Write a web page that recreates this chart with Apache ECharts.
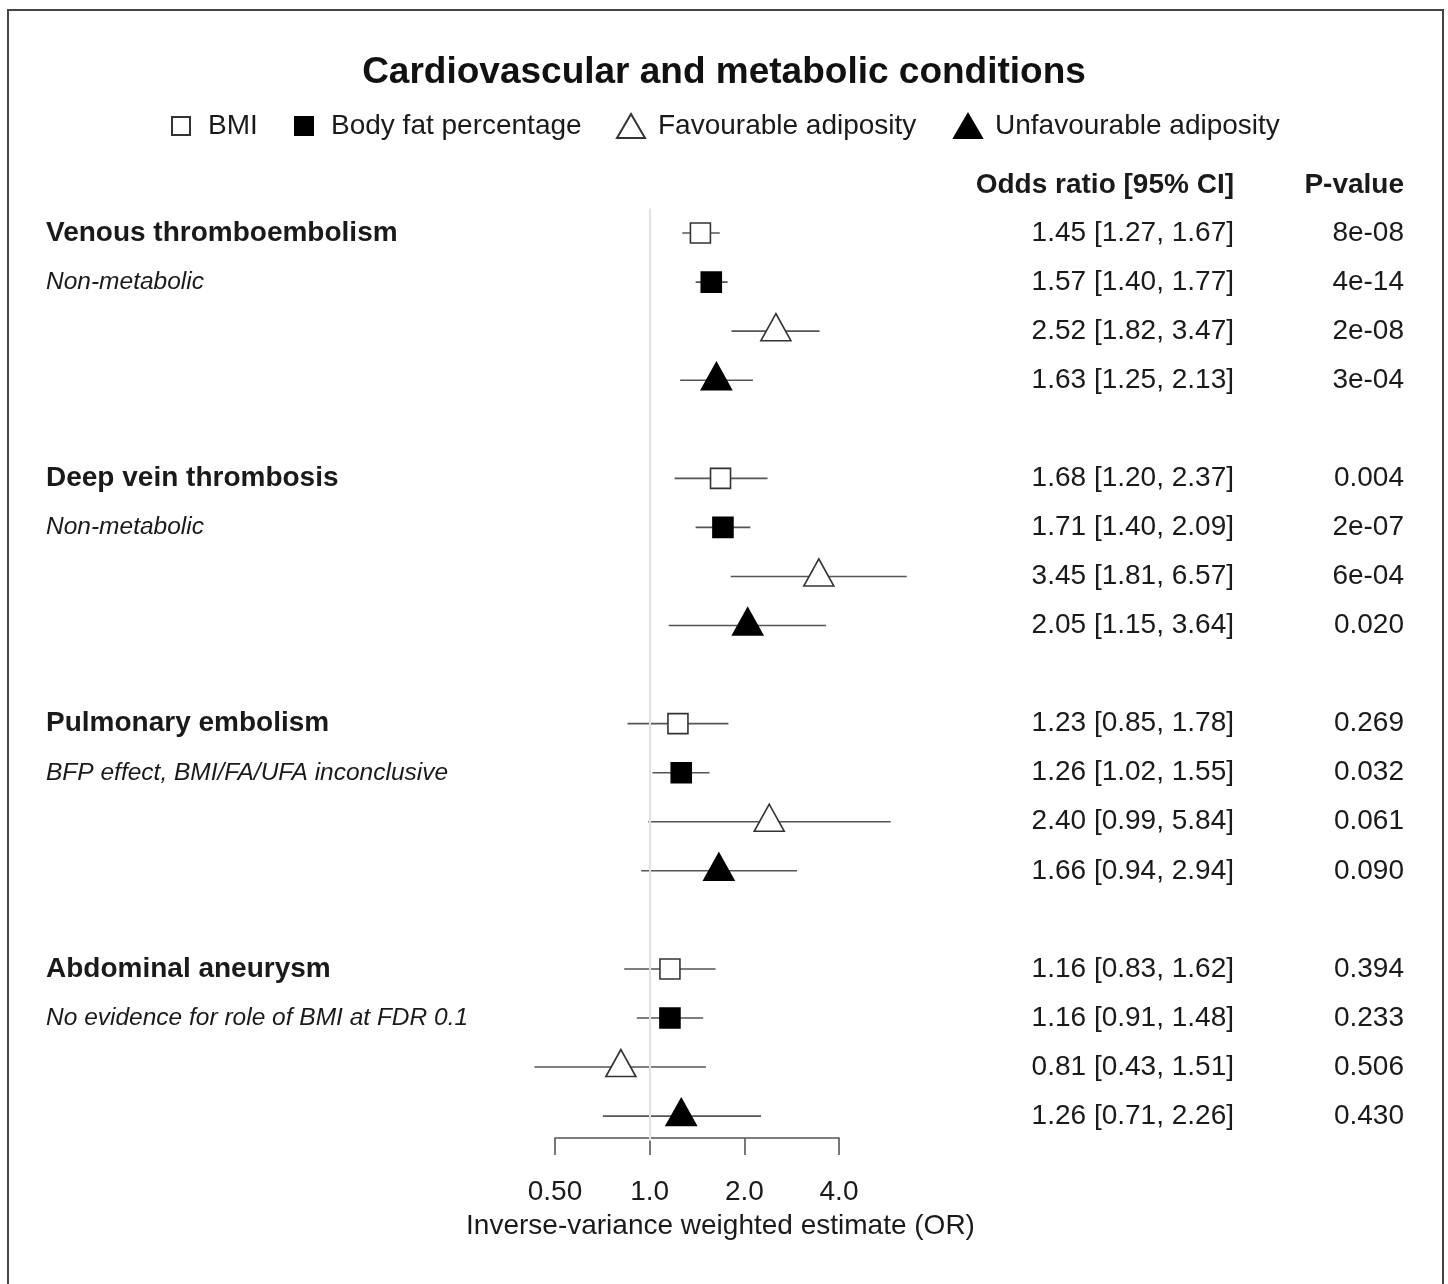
<!DOCTYPE html>
<html>
<head>
<meta charset="utf-8">
<script src="https://cdn.jsdelivr.net/npm/echarts@6/dist/echarts.min.js"></script>
<style>
html,body{margin:0;padding:0;background:#fff;}
#chart{width:1448px;height:1284px;}
</style>
</head>
<body>
<div id="chart"></div>
<script>
// ---- data ----
const outcomes = ['Venous thromboembolism', 'Deep vein thrombosis', 'Pulmonary embolism', 'Abdominal aneurysm'];
const subtitles = ['Non-metabolic', 'Non-metabolic', 'BFP effect, BMI/FA/UFA inconclusive', 'No evidence for role of BMI at FDR 0.1'];
const exposures = ['BMI', 'Body fat percentage', 'Favourable adiposity', 'Unfavourable adiposity'];

const bmiEst = [1.45, 1.68, 1.23, 1.16];
const bmiLo  = [1.27, 1.20, 0.85, 0.83];
const bmiHi  = [1.67, 2.37, 1.78, 1.62];
const bmiP   = ['8e-08', '0.004', '0.269', '0.394'];

const bfpEst = [1.57, 1.71, 1.26, 1.16];
const bfpLo  = [1.40, 1.40, 1.02, 0.91];
const bfpHi  = [1.77, 2.09, 1.55, 1.48];
const bfpP   = ['4e-14', '2e-07', '0.032', '0.233'];

const faEst = [2.52, 3.45, 2.40, 0.81];
const faLo  = [1.82, 1.81, 0.99, 0.43];
const faHi  = [3.47, 6.57, 5.84, 1.51];
const faP   = ['2e-08', '6e-04', '0.061', '0.506'];

const ufaEst = [1.63, 2.05, 1.66, 1.26];
const ufaLo  = [1.25, 1.15, 0.94, 0.71];
const ufaHi  = [2.13, 3.64, 2.94, 2.26];
const ufaP   = ['3e-04', '0.020', '0.090', '0.430'];

const tickValues = [0.5, 1, 2, 4];
const tickLabels = ['0.50', '1.0', '2.0', '4.0'];
const refLineValue = 1;

// ---- build ----
const FONT = '"Liberation Sans", Arial, Helvetica, sans-serif';
const TXT = '#1a1a1a';
const ROWS = 19;
const rowIds = [];
for (let i = 0; i < ROWS; i++) rowIds.push('r' + i);

const sets = [
  {est: bmiEst, lo: bmiLo, hi: bmiHi, p: bmiP},
  {est: bfpEst, lo: bfpLo, hi: bfpHi, p: bfpP},
  {est: faEst, lo: faLo, hi: faHi, p: faP},
  {est: ufaEst, lo: ufaLo, hi: ufaHi, p: ufaP}
];
const orText = new Array(ROWS).fill('');
const pText = new Array(ROWS).fill('');
const leftText = new Array(ROWS).fill('');
outcomes.forEach((o, g) => {
  leftText[g * 5] = '{g|' + o + '}';
  leftText[g * 5 + 1] = '{s|' + subtitles[g] + '}';
});
sets.forEach((s, k) => {
  s.est.forEach((e, g) => {
    const r = g * 5 + k;
    orText[r] = e.toFixed(2) + ' [' + s.lo[g].toFixed(2) + ', ' + s.hi[g].toFixed(2) + ']';
    pText[r] = s.p[g];
  });
});

const styles = [
  {symbol: 'rect', size: 20, color: '#fff', border: '#333', offset: [0, 0]},
  {symbol: 'rect', size: 20, color: '#000', border: '#000', offset: [0, 0]},
  {symbol: 'triangle', size: [30, 27], color: '#fff', border: '#333', offset: [0, -4]},
  {symbol: 'triangle', size: [30, 27], color: '#000', border: '#000', offset: [0, -4]}
];

const series = [];
// reference line at OR = 1
series.push({
  type: 'scatter',
  name: 'ref',
  xAxisIndex: 0, yAxisIndex: 0,
  z: 1,
  symbolSize: 0,
  data: [[refLineValue, 0]],
  silent: true,
  markLine: {
    silent: true, symbol: 'none', label: {show: false},
    lineStyle: {color: '#e2e2e2', width: 2, type: 'solid'},
    emphasis: {disabled: true},
    data: [{xAxis: refLineValue}]
  }
});
sets.forEach((s, k) => {
  series.push({
    type: 'custom',
    name: exposures[k] + ' CI',
    xAxisIndex: 0, yAxisIndex: 0,
    z: 2,
    silent: true,
    dimensions: ['lo', 'hi', 'row'],
    encode: {x: [0, 1], y: 2},
    data: s.est.map((e, g) => [s.lo[g], s.hi[g], g * 5 + k]),
    renderItem: function (params, api) {
      const y = api.value(2);
      const p1 = api.coord([api.value(0), y]);
      const p2 = api.coord([api.value(1), y]);
      return {type: 'line', shape: {x1: p1[0], y1: p1[1], x2: p2[0], y2: p2[1]},
              style: {stroke: '#555', lineWidth: 1.6}};
    }
  });
});
sets.forEach((s, k) => {
  const st = styles[k];
  series.push({
    type: 'scatter',
    name: exposures[k],
    xAxisIndex: 0, yAxisIndex: 0,
    z: 5,
    symbol: st.symbol,
    symbolSize: st.size,
    symbolOffset: st.offset,
    itemStyle: {color: st.color, borderColor: st.border, borderWidth: 1.6, opacity: 1},
    data: s.est.map((e, g) => [e, g * 5 + k])
  });
});

const legendPos = [
  {left: 171, w: 18, h: 18, pad: 13},
  {left: 294, w: 18, h: 18, pad: 13},
  {left: 616, w: 28, h: 24, pad: 8},
  {left: 953, w: 28, h: 24, pad: 8}
];
const legends = exposures.map((name, k) => ({
  data: [name],
  left: legendPos[k].left,
  top: 110,
  padding: 0,
  itemWidth: legendPos[k].w,
  itemHeight: legendPos[k].h,
  symbolKeepAspect: false,
  selectedMode: false,
  textStyle: {fontFamily: FONT, fontSize: 28, color: TXT, padding: [0, 0, 0, legendPos[k].pad], lineHeight: 32}
}));

const PX = 94.67;
const grid0Left = 555 - PX;
const option = {
  backgroundColor: '#fff',
  animation: false,
  title: {
    text: 'Cardiovascular and metabolic conditions',
    left: 'center', top: 49,
    textStyle: {fontFamily: FONT, fontSize: 37, fontWeight: 'bold', color: '#111'}
  },
  legend: legends,
  grid: [
    {left: grid0Left, width: PX * 5, top: 208.5, height: 49.06 * ROWS},
    {left: 555, width: PX * 3, top: 1137, height: 1}
  ],
  xAxis: [
    {type: 'log', logBase: 2, min: 0.25, max: 8, gridIndex: 0, show: false},
    {type: 'log', logBase: 2, min: 0.5, max: 4, gridIndex: 1, position: 'bottom',
     axisLine: {show: true, lineStyle: {color: '#555', width: 1.6}},
     axisTick: {show: true, length: 17, lineStyle: {color: '#555', width: 1.6}},
     splitLine: {show: false}, minorTick: {show: false},
     axisLabel: {fontFamily: FONT, fontSize: 28, color: TXT, margin: 40,
       formatter: function (v) {
         let best = 0;
         tickValues.forEach((t, i) => { if (Math.abs(t - v) < Math.abs(tickValues[best] - v)) best = i; });
         return tickLabels[best];
       }},
     name: 'Inverse-variance weighted estimate (OR)',
     nameLocation: 'middle', nameGap: 74,
     nameTextStyle: {fontFamily: FONT, fontSize: 28, color: TXT, padding: [0, 0, 0, 47]}
    }
  ],
  yAxis: [
    {type: 'category', data: rowIds, inverse: true, gridIndex: 0, position: 'left',
     axisLine: {show: false}, axisTick: {show: false}, splitLine: {show: false},
     axisLabel: {interval: 0, align: 'left', margin: grid0Left - 46,
       formatter: function (v, i) { return leftText[i]; },
       rich: {
         g: {fontFamily: FONT, fontSize: 28, fontWeight: 'bold', color: TXT},
         s: {fontFamily: FONT, fontSize: 24.5, fontStyle: 'italic', color: TXT}
       }}},
    {type: 'category', data: rowIds, inverse: true, gridIndex: 0, position: 'right',
     axisLine: {show: false}, axisTick: {show: false}, splitLine: {show: false},
     axisLabel: {interval: 0, align: 'right', margin: 1234 - (grid0Left + PX * 5),
       fontFamily: FONT, fontSize: 28, color: TXT,
       formatter: function (v, i) { return orText[i]; }}},
    {type: 'category', data: rowIds, inverse: true, gridIndex: 0, position: 'right', offset: 170,
     axisLine: {show: false}, axisTick: {show: false}, splitLine: {show: false},
     axisLabel: {interval: 0, align: 'right', margin: 1234 - (grid0Left + PX * 5),
       fontFamily: FONT, fontSize: 28, color: TXT,
       formatter: function (v, i) { return pText[i]; }}},
    {type: 'value', gridIndex: 1, show: false}
  ],
  graphic: [
    {type: 'rect', shape: {x: 8, y: 10, width: 1435, height: 1300},
     style: {fill: 'none', stroke: '#444', lineWidth: 2}, silent: true, z: 100},
    {type: 'text', x: 1234, y: 185,
     style: {text: 'Odds ratio [95% CI]', textAlign: 'right', textVerticalAlign: 'middle',
             font: 'bold 28px ' + FONT, fill: TXT}},
    {type: 'text', x: 1404, y: 185,
     style: {text: 'P-value', textAlign: 'right', textVerticalAlign: 'middle',
             font: 'bold 28px ' + FONT, fill: TXT}}
  ],
  series: series
};

const chart = echarts.init(document.getElementById('chart'), null, {renderer: 'canvas'});
chart.setOption(option);
</script>
</body>
</html>
